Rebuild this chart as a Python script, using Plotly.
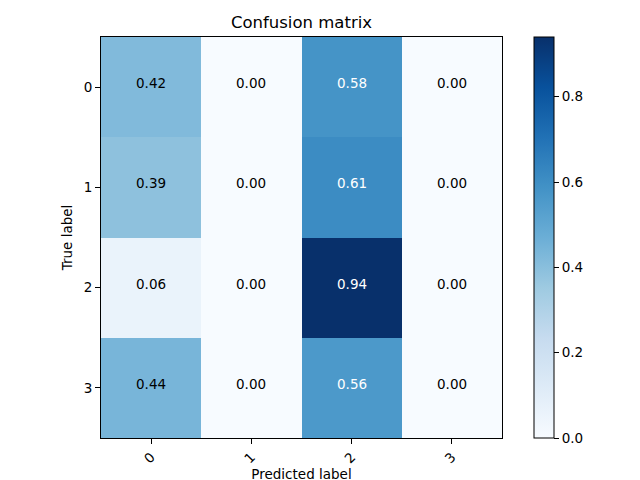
import plotly.graph_objects as go
import plotly.express as px

classes = ["0", "1", "2", "3"]
row0 = [0.42, 0.00, 0.58, 0.00]
row1 = [0.39, 0.00, 0.61, 0.00]
row2 = [0.06, 0.00, 0.94, 0.00]
row3 = [0.44, 0.00, 0.56, 0.00]
matrix = [row0, row1, row2, row3]
cbar_ticks = [0.0, 0.2, 0.4, 0.6, 0.8]

blues = px.colors.sequential.Blues
n = len(blues)
cscale = [[i / (n - 1), c] for i, c in enumerate(blues)]

zmax = max(max(r) for r in matrix)
thresh = zmax / 2

# page body has an 8px margin; compensate
L, T = 93, 29
W, H = 401, 401

font = "DejaVu Sans"
fs = 13.5
fig = go.Figure()
fig.add_trace(go.Heatmap(
    z=matrix, x=[0, 1, 2, 3], y=[0, 1, 2, 3],
    colorscale=cscale, zmin=0, zmax=zmax,
    colorbar=dict(thickness=20, thicknessmode="pixels", len=1, lenmode="fraction",
                  x=(534 - 101) / 401, xanchor="left", xpad=0, ypad=0,
                  y=0.5, yanchor="middle", outlinewidth=1, outlinecolor="black",
                  tickvals=cbar_ticks, ticktext=[f"{t:.1f}" for t in cbar_ticks],
                  ticks="outside", ticklen=5, tickcolor="black",
                  tickfont=dict(family=font, size=fs, color="black")),
    showscale=True, hoverinfo="skip",
))

annotations = []
for i, row in enumerate(matrix):
    for j, v in enumerate(row):
        annotations.append(dict(
            x=j, y=i, xref="x", yref="y", text=f"{v:.2f}", showarrow=False,
            yshift=4,
            font=dict(family=font, size=fs, color="white" if v > thresh else "black")))

fig.update_layout(
    width=640, height=480,
    margin=dict(l=L, r=640 - L - W, t=T, b=480 - T - H, autoexpand=False),
    paper_bgcolor="white", plot_bgcolor="white",
    title=dict(text="Confusion matrix", x=(L + W / 2) / 640, xanchor="center",
               y=1 - 14 / 480, yanchor="middle",
               font=dict(family=font, size=16.5, color="black")),
    annotations=annotations,
    xaxis=dict(tickvals=[0, 1, 2, 3], ticktext=classes, tickangle=-45,
               range=[-0.5, 3.5], showgrid=False, zeroline=False, automargin=False,
               ticks="outside", ticklen=5, tickcolor="black",
               showline=True, linecolor="black", linewidth=1, mirror=True,
               tickfont=dict(family=font, size=fs, color="black"),
               title=dict(text="Predicted label", standoff=3,
                          font=dict(family=font, size=fs, color="black"))),
    yaxis=dict(tickvals=[0, 1, 2, 3], ticktext=classes,
               range=[3.5, -0.5], showgrid=False, zeroline=False, automargin=False,
               ticks="outside", ticklen=5, tickcolor="black",
               showline=True, linecolor="black", linewidth=1, mirror=True,
               tickfont=dict(family=font, size=fs, color="black"),
               title=dict(text="True label", standoff=7,
                          font=dict(family=font, size=fs, color="black"))),
)

fig.write_html("out.html")
